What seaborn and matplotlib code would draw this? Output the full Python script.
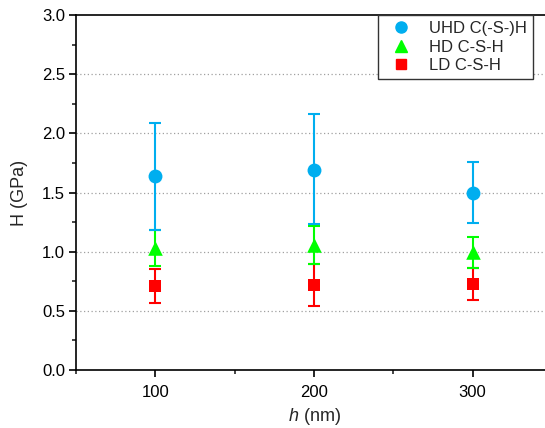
import matplotlib
matplotlib.use("Agg")
import matplotlib.pyplot as plt
from matplotlib.ticker import MultipleLocator
import seaborn as sns
import pandas as pd

# depths (nm)
depths = [100, 200, 300]

series = ["UHD C(-S-)H", "HD C-S-H", "LD C-S-H"]

uhd_mean = [1.64, 1.69, 1.50]
uhd_upper = [2.09, 2.16, 1.76]
uhd_lower = [1.18, 1.23, 1.24]

hd_mean = [1.03, 1.06, 1.00]
hd_upper = [1.18, 1.22, 1.12]
hd_lower = [0.88, 0.90, 0.86]

ld_mean = [0.71, 0.72, 0.73]
ld_upper = [0.85, 0.90, 0.86]
ld_lower = [0.57, 0.54, 0.59]

colors = {"UHD C(-S-)H": "#00AEEF", "HD C-S-H": "#00FF00", "LD C-S-H": "#FF0000"}
markers = {"UHD C(-S-)H": "o", "HD C-S-H": "^", "LD C-S-H": "s"}
sizes = {"UHD C(-S-)H": 100, "HD C-S-H": 110, "LD C-S-H": 80}

rows = []
for name, m, up, lo in [
    (series[0], uhd_mean, uhd_upper, uhd_lower),
    (series[1], hd_mean, hd_upper, hd_lower),
    (series[2], ld_mean, ld_upper, ld_lower),
]:
    for d, v, u, l in zip(depths, m, up, lo):
        rows.append({"depth": d, "H": v, "upper": u, "lower": l, "phase": name})
df = pd.DataFrame(rows)

sns.set_style("ticks")
plt.rcParams["font.family"] = ["Liberation Sans", "DejaVu Sans"]
plt.rcParams["mathtext.fontset"] = "custom"
plt.rcParams["mathtext.it"] = "Liberation Sans:italic"
plt.rcParams["mathtext.rm"] = "Liberation Sans"

fig = plt.figure(figsize=(5.45, 4.28), dpi=100)
ax = fig.add_axes([76 / 545, 58 / 428, (552 - 76) / 545, 355 / 428])

# error bars first, markers on top
for name in reversed(series):
    sub = df[df["phase"] == name]
    ax.errorbar(sub["depth"], sub["H"],
                yerr=[sub["H"] - sub["lower"], sub["upper"] - sub["H"]],
                fmt="none", ecolor=colors[name], elinewidth=1.5,
                capsize=4, capthick=1.5, zorder=2)

for name in reversed(series):
    sub = df[df["phase"] == name]
    sns.scatterplot(data=sub, x="depth", y="H", ax=ax, color=colors[name],
                    marker=markers[name], s=sizes[name], linewidth=0,
                    zorder=3, legend=False)

ax.set_xlim(50, 350)
ax.set_ylim(0, 3.0)
ax.set_xticks(depths)
ax.xaxis.set_minor_locator(MultipleLocator(50))
ax.yaxis.set_minor_locator(MultipleLocator(0.25))
ax.set_yticks([0, 0.5, 1.0, 1.5, 2.0, 2.5, 3.0])
ax.set_yticklabels(["0.0", "0.5", "1.0", "1.5", "2.0", "2.5", "3.0"])

for yv in [0.5, 1.0, 1.5, 2.0, 2.5]:
    ax.axhline(yv, color="#a0a0a0", linestyle=(0, (1, 2)), linewidth=0.9, zorder=1)

for sp in ax.spines.values():
    sp.set_linewidth(1.2)
    sp.set_color("black")
ax.spines["right"].set_visible(False)

ax.tick_params(axis="both", which="major", direction="out", length=5, width=1.2,
               labelsize=12, colors="black")
ax.tick_params(axis="both", which="minor", direction="out", length=3, width=1.2)
ax.tick_params(axis="x", pad=6)
ax.tick_params(axis="y", pad=3)

ax.set_xlabel("$h$ (nm)", fontsize=13, labelpad=4)
ax.set_ylabel("H (GPa)", fontsize=13, labelpad=10)

handles = []
for name in series:
    h = plt.Line2D([], [], linestyle="none", marker=markers[name], color=colors[name],
                   markersize=8 if name != "LD C-S-H" else 7)
    handles.append(h)
leg = ax.legend(handles, series, loc="upper right",
                bbox_to_anchor=(533 / 545, 1 - 15 / 428),
                bbox_transform=fig.transFigure, borderaxespad=0,
                fancybox=False, framealpha=1, edgecolor="#333333",
                fontsize=12, handletextpad=0.7, handlelength=2.0,
                borderpad=0.35, labelspacing=0.22)
leg.get_frame().set_linewidth(1.0)

fig.savefig("out.png", dpi=100)
